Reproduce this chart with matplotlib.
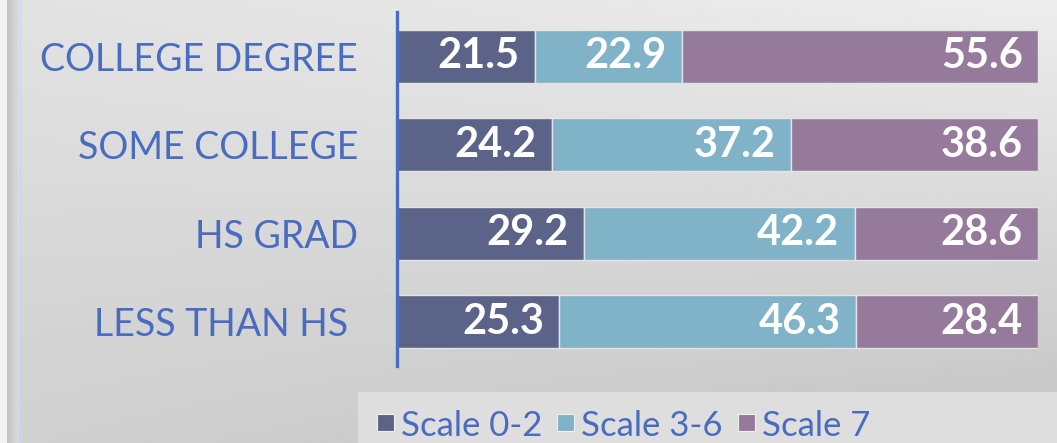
import numpy as np
import matplotlib
matplotlib.use("Agg")
import matplotlib.pyplot as plt
from matplotlib.patches import Rectangle

categories = ["LESS THAN HS ", "HS GRAD", "SOME COLLEGE", "COLLEGE DEGREE"]
series_names = ["Scale 0-2", "Scale 3-6", "Scale 7"]
scale_0_2 = [25.3, 29.2, 24.2, 21.5]
scale_3_6 = [46.3, 42.2, 37.2, 22.9]
scale_7 = [28.4, 28.6, 38.6, 55.6]
colors = ["#5b6389", "#80b2c8", "#957a9c"]
label_color = "#4a6cc0"

W, H = 1057, 443
fig = plt.figure(figsize=(W / 100, H / 100), dpi=100)

# background gradient
bg = fig.add_axes([0, 0, 1, 1], zorder=-10)
yy, xx = np.mgrid[0:1:200j, 0:1:400j]
tl, tr, bl, br = 0.885, 0.93, 0.815, 0.765
grad = tl * (1 - xx) * (1 - yy) + tr * xx * (1 - yy) + bl * (1 - xx) * yy + br * xx * yy
bg.imshow(grad, cmap="gray", vmin=0, vmax=1, extent=[0, W, H, 0], aspect="auto", interpolation="bilinear")
bg.add_patch(Rectangle((0, 0), 7, H, color="#f2f2f2", lw=0))
sh = np.linspace(0.76, 0.86, 20)[None, :]
bg.imshow(sh, cmap="gray", vmin=0, vmax=1, extent=[7, 19, H, 0], aspect="auto")
bg.plot([19.5, 19.5], [0, H], color="#c8d4f0", lw=0.8)
# legend band
bg.add_patch(Rectangle((358, 392), W - 358, H - 392, color="#dedede", lw=0))
bg.set_xlim(0, W)
bg.set_ylim(H, 0)
bg.axis("off")

ax = fig.add_axes([397 / W, (H - 366) / H, 641 / W, 354 / H])
ax.patch.set_alpha(0)
y = np.arange(len(categories))
left = np.zeros(len(categories))
for vals, name, c in zip([scale_0_2, scale_3_6, scale_7], series_names, colors):
    bars = ax.barh(y, vals, left=left, height=0.6, color=c, edgecolor="#e4e4e4", linewidth=1.0, label=name)
    txts = ax.bar_label(bars, labels=[f"{v:.1f}" for v in vals], label_type="edge", padding=-11,
                        color="white", fontsize=30, fontweight="bold", family="Lato")
    for t in txts:
        t.set_ha("right")
    left += np.array(vals)

ax.set_xlim(0, 100)
ax.set_ylim(-0.5, 3.5)
ax.set_yticks(y)
ax.set_yticklabels(categories, fontsize=27, color=label_color, family="Lato", fontweight="normal")
ax.tick_params(axis="y", length=0, pad=28)
ax.set_xticks([])
for s in ["top", "right", "bottom"]:
    ax.spines[s].set_visible(False)
ax.spines["left"].set_color(label_color)
ax.spines["left"].set_linewidth(2.4)

# legend (drawn manually to match the original placement)
marker_x = [377, 557, 738]
for mx, name, c in zip(marker_x, series_names, colors):
    bg.add_patch(Rectangle((mx, 414), 17, 17, facecolor=c, edgecolor="#f0f0f0", lw=0.8))
    bg.text(mx + 24, 442, name, color=label_color, fontsize=25, family="Lato",
            ha="left", va="bottom")

fig.savefig("out.png", dpi=100)
